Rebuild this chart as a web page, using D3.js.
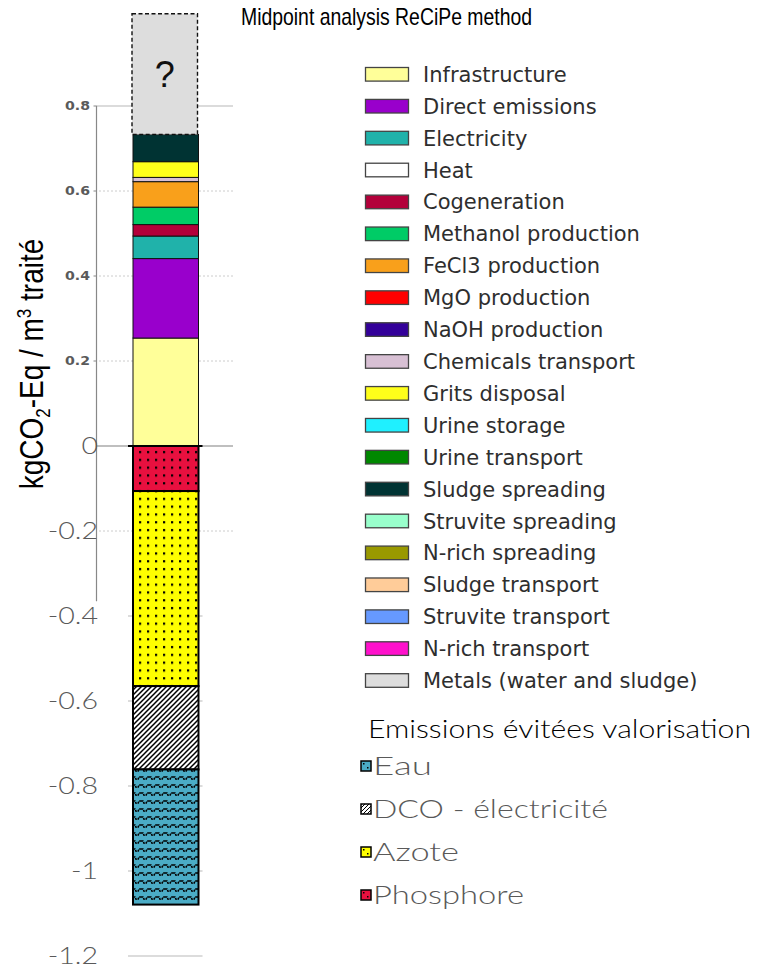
<!DOCTYPE html>
<html><head><meta charset="utf-8">
<script src="https://cdn.jsdelivr.net/npm/d3@7"></script>
<style>body{margin:0;background:#fff}svg{display:block}</style>
</head><body>
<svg id="chart" width="757" height="967"></svg>
<script>
// ---- data ----
const categories = ["Infrastructure","Direct emissions","Electricity","Heat","Cogeneration","Methanol production","FeCl3 production","MgO production","NaOH production","Chemicals transport","Grits disposal","Urine storage","Urine transport","Sludge spreading","Struvite spreading","N-rich spreading","Sludge transport","Struvite transport","N-rich transport","Metals (water and sludge)"];
const impactValues = [0.254,0.187,0.053,0,0.027,0.041,0.060,0,0,0.010,0.037,0,0,0.064,0,0,0,0,0,0.284];
const categoryColors = ["#ffff99","#9900cc","#20b2aa","#ffffff","#b3003a","#00cc66","#f9a01b","#ff0000","#330099","#d8c0d4","#ffff1a","#1ff0ff","#008800","#003333","#99ffcc","#999900","#ffcc99","#6699ff","#ff11cc","#dddddd"];
const uncertainCategory = "Metals (water and sludge)";
const avoidedCategories = ["Eau","DCO - électricité","Azote","Phosphore"];
const avoidedValues = [-0.318,-0.196,-0.459,-0.106];
const avoidedColors = ["#4bacc6","#ffffff","#ffff00","#e8103f"];
const avoidedPatterns = ["wave","hatch","dots","dots"];
const upperTicks = [0.2,0.4,0.6,0.8];
const upperTickLabels = ["0.2","0.4","0.6","0.8"];
const lowerTicks = [0,-0.2,-0.4,-0.6,-0.8,-1,-1.2];
const lowerTickLabels = ["0","-0.2","-0.4","-0.6","-0.8","-1","-1.2"];
const originalAxisEnd = -0.365;

// ---- layout (not data) ----
const avoidedLabelWidths = [59,235,86,151];
const gothicFont = "Lato, 'Open Sans', sans-serif";

const svg = d3.select("#chart");
const y = d3.scaleLinear().domain([-1.2,0.8]).range([956,106]);
const x = d3.scaleBand().domain(["bar"]).range([133,198.5]).padding(0);
const bx = x("bar"), bw = x.bandwidth();

// patterns
const defs = svg.append("defs");
avoidedCategories.forEach((c,i)=>{
  const p = defs.append("pattern").attr("id","pat"+i).attr("patternUnits","userSpaceOnUse");
  if(avoidedPatterns[i]==="dots"){
    p.attr("width",8).attr("height",7.8).attr("x",bx+3).attr("y",y(0)+2);
    p.append("rect").attr("width",8).attr("height",8).attr("fill",avoidedColors[i]);
    p.append("rect").attr("x",3).attr("y",3).attr("width",2.2).attr("height",2.2).attr("fill","#000");
  } else if(avoidedPatterns[i]==="hatch"){
    p.attr("width",5).attr("height",5).attr("x",bx);
    p.append("rect").attr("width",5).attr("height",5).attr("fill",avoidedColors[i]);
    p.append("path").attr("d","M-1,6 L6,-1 M-1,1 L1,-1 M4,6 L6,4").attr("stroke","#000").attr("stroke-width",1.5);
  } else {
    p.attr("width",8).attr("height",8).attr("x",bx).attr("y",y(0));
    p.append("rect").attr("width",8).attr("height",8).attr("fill",avoidedColors[i]);
    p.append("path").attr("d","M0,3 L2,3 L3,5.2 L5,5.2 L6,3 L8,3").attr("fill","none").attr("stroke","#000").attr("stroke-width",1.5).attr("stroke-dasharray","2.2,0.8");
  }
});

// grid lines
const g = svg.append("g");
g.append("line").attr("x1",96).attr("x2",233).attr("y1",y(0.8)).attr("y2",y(0.8)).attr("stroke","#cfcfcf").attr("stroke-width",1.5);
[0.6,0.4,0.2,-0.2].forEach(v=>{
  g.append("line").attr("x1",99).attr("x2",233).attr("y1",y(v)).attr("y2",y(v)).attr("stroke","#cccccc").attr("stroke-width",1).attr("stroke-dasharray","2,2");
});
g.append("line").attr("x1",96).attr("x2",233).attr("y1",y(0)).attr("y2",y(0)).attr("stroke","#aaaaaa").attr("stroke-width",1.5);
[-0.4,-0.6,-0.8,-1,-1.2].forEach(v=>{
  g.append("line").attr("x1",bx-5).attr("x2",bx+bw+4).attr("y1",y(v)).attr("y2",y(v)).attr("stroke","#dcdcdc").attr("stroke-width",2);
});
g.append("line").attr("x1",96.5).attr("x2",96.5).attr("y1",y(0.8)).attr("y2",y(originalAxisEnd)).attr("stroke","#888").attr("stroke-width",1.2);
upperTicks.forEach(v=>{
  g.append("line").attr("x1",93.5).attr("x2",96.5).attr("y1",y(v)).attr("y2",y(v)).attr("stroke","#888").attr("stroke-width",1);
});

// upper tick labels
upperTicks.forEach((v,i)=>{
  g.append("text").attr("x",65).attr("y",y(v)+4.4).attr("font-family","DejaVu Sans").attr("font-weight","bold")
   .attr("font-size",12).attr("fill","#5a5a5a").attr("textLength",25).attr("lengthAdjust","spacingAndGlyphs").text(upperTickLabels[i]);
});
// lower tick labels
lowerTicks.forEach((v,i)=>{
  g.append("text").attr("transform",`translate(98,${y(v)-0.5}) scale(1.19,1)`).attr("dy","0.35em").attr("text-anchor","end")
   .attr("font-family",gothicFont).attr("font-weight",300)
   .attr("font-size",24).attr("fill","#595959").text(lowerTickLabels[i]);
});

// positive stacked bar
let cum = 0;
const stacked = categories.map((c,i)=>{const s={cat:c,y0:cum,y1:cum+impactValues[i],color:categoryColors[i]};cum+=impactValues[i];return s;});
svg.append("g").selectAll("rect").data(stacked.filter(d=>d.y1>d.y0 && d.cat!==uncertainCategory)).join("rect")
  .attr("x",bx).attr("width",bw).attr("y",d=>y(d.y1)).attr("height",d=>y(d.y0)-y(d.y1))
  .attr("fill",d=>d.color).attr("stroke","#111").attr("stroke-width",1);
const unc = stacked.find(d=>d.cat===uncertainCategory);
svg.append("rect").attr("x",bx-1).attr("width",bw).attr("y",y(unc.y1)).attr("height",y(unc.y0)-y(unc.y1))
  .attr("fill",unc.color).attr("stroke","#111").attr("stroke-width",1.4).attr("stroke-dasharray","4,2.5");
svg.append("text").attr("x",bx-1+bw/2).attr("y",(y(unc.y1)+y(unc.y0))/2).attr("dy","0.36em").attr("text-anchor","middle")
  .attr("font-family","Liberation Sans, Arial, sans-serif").attr("font-size",36).attr("fill","#111").text("?");

// negative stacked bar
let ncum = 0;
const negOrder = d3.range(avoidedCategories.length).reverse();
const negStack = negOrder.map(i=>{const s={i:i,y0:ncum,y1:ncum+avoidedValues[i]};ncum+=avoidedValues[i];return s;});
svg.append("g").selectAll("rect").data(negStack).join("rect")
  .attr("x",bx).attr("width",bw).attr("y",d=>y(d.y0)).attr("height",d=>y(d.y1)-y(d.y0))
  .attr("fill",d=>"url(#pat"+d.i+")").attr("stroke","#000").attr("stroke-width",2);
svg.append("line").attr("x1",bx-5).attr("x2",bx+bw+4).attr("y1",y(0)).attr("y2",y(0)).attr("stroke","#000").attr("stroke-width",2.2);

// y label
svg.append("text").attr("transform",`translate(43,364) scale(1.2,1) rotate(-90)`).attr("text-anchor","middle")
  .attr("font-family","Liberation Sans, Arial, sans-serif").attr("font-size",28).attr("fill","#000")
  .call(t=>{
    t.append("tspan").text("kgCO");
    t.append("tspan").attr("font-size",17).attr("dy",6).text("2");
    t.append("tspan").attr("dy",-6).text("-Eq / m");
    t.append("tspan").attr("font-size",17).attr("dy",-10).text("3");
    t.append("tspan").attr("dy",10).text(" traité");
  });

// title
svg.append("text").attr("x",241).attr("y",24.5).attr("font-family","Liberation Sans, Arial, sans-serif")
  .attr("font-size",24).attr("fill","#000").attr("textLength",291).attr("lengthAdjust","spacingAndGlyphs")
  .text("Midpoint analysis ReCiPe method");

// legend 1
const leg = svg.append("g");
const ly = d3.scalePoint().domain(categories).range([74.3,680.5]);
categories.forEach((c,i)=>{
  leg.append("rect").attr("x",365.5).attr("y",ly(c)-6.8).attr("width",43).attr("height",13.6)
    .attr("fill",categoryColors[i]).attr("stroke","#444").attr("stroke-width",1.3);
  leg.append("text").attr("x",423).attr("y",ly(c)).attr("dy","0.36em").attr("font-family","DejaVu Sans")
    .attr("font-size",21).attr("fill","#2e2e2e").text(c);
});

// legend 2
const leg2 = svg.append("g");
leg2.append("text").attr("x",368).attr("y",729).attr("dy","0.35em").attr("font-family",gothicFont)
  .attr("font-weight",300).attr("font-size",26).attr("fill","#000").attr("textLength",383).attr("lengthAdjust","spacingAndGlyphs")
  .text("Emissions évitées valorisation");
const ly2 = d3.scalePoint().domain(avoidedCategories).range([766,895]);
avoidedCategories.forEach((c,i)=>{
  const p = defs.append("pattern").attr("id","lp"+i).attr("patternUnits","userSpaceOnUse").attr("x",361).attr("y",ly2(c)-5);
  if(avoidedPatterns[i]==="hatch"){
    p.attr("width",4).attr("height",4);
    p.append("rect").attr("width",4).attr("height",4).attr("fill",avoidedColors[i]);
    p.append("path").attr("d","M-1,5 L5,-1").attr("stroke","#000").attr("stroke-width",1);
  } else {
    p.attr("width",10).attr("height",10);
    p.append("rect").attr("width",10).attr("height",10).attr("fill",avoidedColors[i]);
    p.append("rect").attr("x",2).attr("y",2).attr("width",1.5).attr("height",1.5).attr("fill","#000");
    p.append("rect").attr("x",6).attr("y",6).attr("width",1.5).attr("height",1.5).attr("fill","#000");
  }
  leg2.append("rect").attr("x",361).attr("y",ly2(c)-5).attr("width",10).attr("height",10)
    .attr("fill","url(#lp"+i+")").attr("stroke","#000").attr("stroke-width",1.5);
  leg2.append("text").attr("x",373).attr("y",ly2(c)).attr("dy","0.35em").attr("font-family",gothicFont)
    .attr("font-weight",300).attr("font-size",26).attr("fill","#595959")
    .attr("textLength",avoidedLabelWidths[i]).attr("lengthAdjust","spacingAndGlyphs").text(c);
});
</script>
</body></html>
